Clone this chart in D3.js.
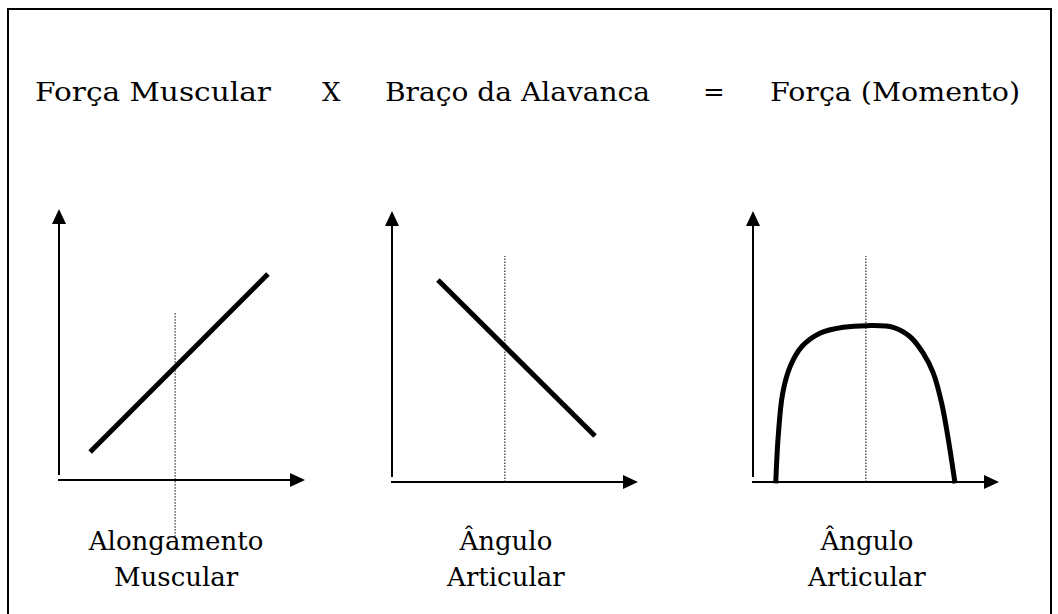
<!DOCTYPE html>
<html>
<head>
<meta charset="utf-8">
<script src="https://cdn.jsdelivr.net/npm/d3@7"></script>
<style>
  body { margin: 0; background: #fff; }
  text { font-family: "DejaVu Serif", "Liberation Serif", serif; fill: #000; }
</style>
</head>
<body>
<script>
// title pieces of the formula
const titleParts = ['Força Muscular', 'X', 'Braço da Alavanca', '=', 'Força (Momento)'];

// x-axis labels, one pair per panel
const xLabels = [
  ['Alongamento', 'Muscular'],
  ['Ângulo', 'Articular'],
  ['Ângulo', 'Articular']
];

// panel 1: force vs muscle length (rising line)
const lengthTension = [[1.26, 1.04], [8.46, 7.63]];
// panel 2: lever arm vs joint angle (falling line)
const leverArm = [[1.86, 7.48], [8.22, 1.70]];
// panel 3: moment vs joint angle
const momentCurve = [
  [0.92, -0.05], [1.02, 1.68], [1.20, 3.28], [1.50, 4.27], [1.97, 5.01],
  [2.71, 5.51], [3.66, 5.73], [4.60, 5.79], [5.68, 5.73], [6.36, 5.38],
  [6.89, 4.77], [7.30, 4.03], [7.64, 2.91], [7.91, 1.56], [8.18, -0.05]
];

// reference (dotted) lines: x position, top, bottom
const refLines = [
  { x: 4.7, y0: -2.1, y1: 6.19 },
  { x: 4.57, y0: 0, y1: 8.37 },
  { x: 4.57, y0: 0, y1: 8.37 }
];

const width = 1058, height = 614;

const svg = d3.select('body').append('svg')
  .attr('width', width)
  .attr('height', height);

// frame
svg.append('rect')
  .attr('x', 8).attr('y', 9)
  .attr('width', 1043).attr('height', 640)
  .attr('fill', 'none')
  .attr('stroke', '#000')
  .attr('stroke-width', 2);

// title
const titlePos = [[35, 236], [322, null], [385, 265], [703, null], [770, 250]];
titleParts.forEach((t, i) => {
  const el = svg.append('text')
    .attr('x', titlePos[i][0])
    .attr('y', 101)
    .attr('font-size', 26)
    .text(t);
  if (titlePos[i][1]) el.attr('textLength', titlePos[i][1]).attr('lengthAdjust', 'spacingAndGlyphs');
});

const panels = [
  { x0: 59, axisY: 480, data: [lengthTension], curve: d3.curveLinear },
  { x0: 392, axisY: 482, data: [leverArm], curve: d3.curveLinear },
  { x0: 753, axisY: 482, data: [momentCurve], curve: d3.curveCatmullRom }
];

panels.forEach((p, i) => {
  const x = d3.scaleLinear().domain([0, 10]).range([p.x0, p.x0 + 247]);
  const y = d3.scaleLinear().domain([0, 10]).range([p.axisY, p.axisY - 270]);
  const g = svg.append('g');

  // y axis with arrow
  g.append('line')
    .attr('x1', x(0)).attr('x2', x(0))
    .attr('y1', p.axisY - 5).attr('y2', y(10) + 12)
    .attr('stroke', '#000').attr('stroke-width', 2);
  g.append('path')
    .attr('d', `M${x(0)},${y(10) - 1} l-7,15 l14,0 z`)
    .attr('fill', '#000');

  // x axis with arrow
  g.append('line')
    .attr('x1', x(0) - 1).attr('x2', x(10) - 10)
    .attr('y1', p.axisY).attr('y2', p.axisY)
    .attr('stroke', '#000').attr('stroke-width', 2);
  g.append('path')
    .attr('d', `M${x(10) - 1},${p.axisY} l-15,-7 l0,14 z`)
    .attr('fill', '#000');

  // dotted reference line
  const r = refLines[i];
  g.append('line')
    .attr('x1', x(r.x)).attr('x2', x(r.x))
    .attr('y1', y(r.y0)).attr('y2', y(r.y1))
    .attr('stroke', '#000').attr('stroke-width', 1)
    .attr('stroke-dasharray', '1.5,1.5');

  // the data curve
  const line = d3.line().x(d => x(d[0])).y(d => y(d[1])).curve(p.curve);
  g.selectAll('.curve').data(p.data).join('path')
    .attr('class', 'curve')
    .attr('d', line)
    .attr('fill', 'none')
    .attr('stroke', '#000')
    .attr('stroke-width', 5);

  // x label
  const cx = x(r.x) + 1;
  xLabels[i].forEach((t, k) => {
    g.append('text')
      .attr('x', cx)
      .attr('y', 550 + k * 36)
      .attr('text-anchor', 'middle')
      .attr('font-size', 26)
      .text(t);
  });
});
</script>
</body>
</html>
